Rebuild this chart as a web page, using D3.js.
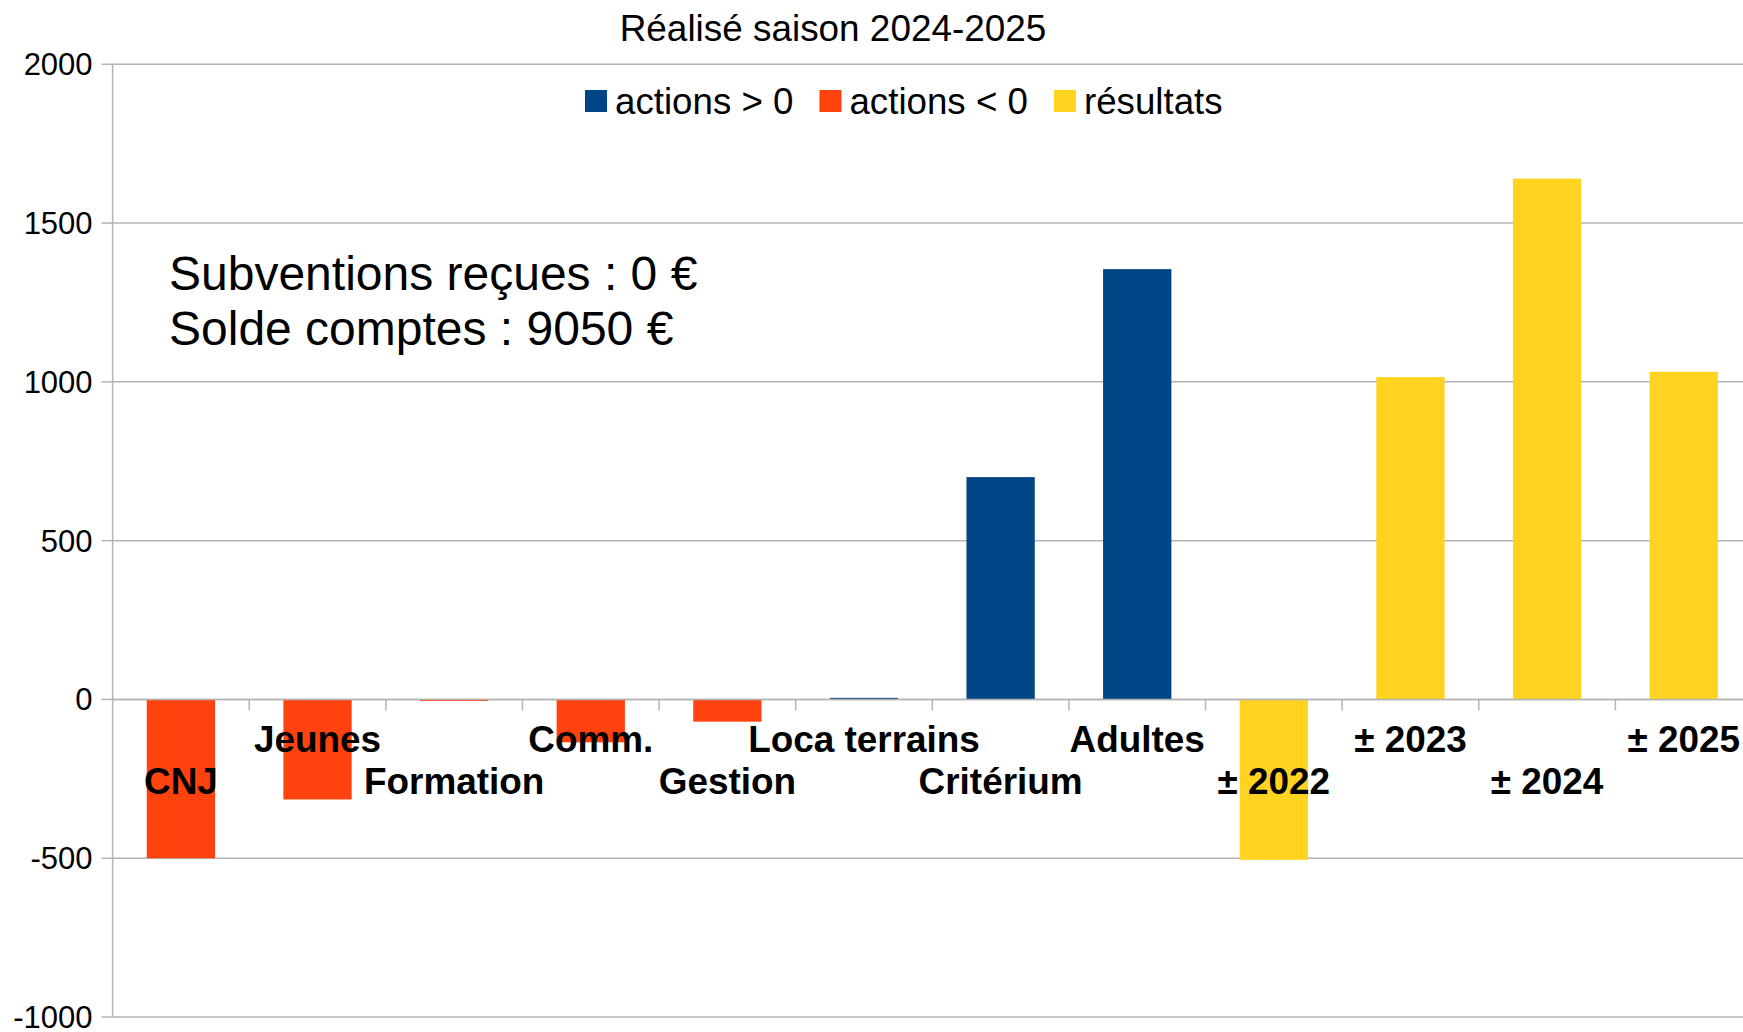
<!DOCTYPE html>
<html lang="fr">
<head>
<meta charset="UTF-8">
<title>Réalisé saison 2024-2025</title>
<script src="https://cdn.jsdelivr.net/npm/d3@7"></script>
<style>
  body { margin: 0; background: #fff; }
  svg { display: block; font-family: 'Liberation Sans', Arial, sans-serif; }
  .grid line { stroke: #b3b3b3; stroke-width: 1.5px; }
  .axis-line { stroke: #b3b3b3; stroke-width: 1.5px; fill: none; }
  .ytick { font-size: 31px; fill: #000; }
  .xlab { font-size: 36.9px; font-weight: bold; fill: #000; }
</style>
</head>
<body>
<div id="chart"></div>
<script>
// données
const categories = ["CNJ", "Jeunes", "Formation", "Comm.", "Gestion", "Loca terrains",
                    "Critérium", "Adultes", "± 2022", "± 2023", "± 2024", "± 2025"];
const actionsPos = [null, null, null, null, null, 5, 700, 1355, null, null, null, null];
const actionsNeg = [-500, -315, -5, -135, -70, null, null, null, null, null, null, null];
const resultats  = [null, null, null, null, null, null, null, null, -505, 1015, 1640, 1032];
const yTicks = [-1000, -500, 0, 500, 1000, 1500, 2000];
const seriesNames = ["actions > 0", "actions < 0", "résultats"];
const seriesColors = ["#004586", "#ff420e", "#ffd320"];

const W = 1743, H = 1032;
// la zone de tracé déborde un peu à droite de l'image
const plotLeft = 112.6, plotRight = 1752, plotTop = 64.3, plotBottom = 1017;

const svg = d3.select("#chart").append("svg")
    .attr("width", W).attr("height", H);

const x = d3.scaleBand()
    .domain(categories)
    .range([plotLeft, plotRight])
    .paddingInner(0.5)
    .paddingOuter(0.25);

const y = d3.scaleLinear()
    .domain([-1000, 2000])
    .range([plotBottom, plotTop]);

// grille horizontale
svg.append("g").attr("class", "grid")
  .selectAll("line")
  .data(yTicks)
  .join("line")
    .attr("x1", plotLeft).attr("x2", W)
    .attr("y1", d => y(d)).attr("y2", d => y(d));

// barres
const allSeries = [actionsPos, actionsNeg, resultats];
allSeries.forEach((vals, s) => {
    const rows = categories.map((c, i) => ({ cat: c, v: vals[i] })).filter(d => d.v != null);
    svg.append("g")
      .selectAll("rect")
      .data(rows)
      .join("rect")
        .attr("x", d => x(d.cat))
        .attr("width", x.bandwidth())
        .attr("y", d => y(Math.max(0, d.v)))
        .attr("height", d => Math.max(1.5, Math.abs(y(d.v) - y(0))))
        .attr("fill", seriesColors[s]);
});

// axe Y
svg.append("line").attr("class", "axis-line")
    .attr("x1", plotLeft).attr("x2", plotLeft).attr("y1", plotTop).attr("y2", plotBottom);
svg.append("g")
  .selectAll("line")
  .data(yTicks)
  .join("line")
    .attr("class", "axis-line")
    .attr("x1", plotLeft - 11).attr("x2", plotLeft)
    .attr("y1", d => y(d)).attr("y2", d => y(d));
svg.append("g")
  .selectAll("text")
  .data(yTicks)
  .join("text")
    .attr("class", "ytick")
    .attr("x", plotLeft - 20)
    .attr("y", d => y(d))
    .attr("dy", "0.35em")
    .attr("text-anchor", "end")
    .text(d => d);

// axe X (à zéro)
svg.append("line").attr("class", "axis-line")
    .attr("x1", plotLeft).attr("x2", W).attr("y1", y(0)).attr("y2", y(0));
const step = x.step();
svg.append("g")
  .selectAll("line")
  .data(d3.range(1, categories.length))
  .join("line")
    .attr("class", "axis-line")
    .attr("x1", d => plotLeft + d * step).attr("x2", d => plotLeft + d * step)
    .attr("y1", y(0)).attr("y2", y(0) + 11);

// étiquettes des catégories (en quinconce)
svg.append("g")
  .selectAll("text")
  .data(categories)
  .join("text")
    .attr("class", "xlab")
    .attr("x", d => x(d) + x.bandwidth() / 2)
    .attr("y", (d, i) => i % 2 ? 739 : 781)
    .attr("dy", "0.35em")
    .attr("text-anchor", "middle")
    .text(d => d);

// titre
svg.append("text")
    .attr("x", 833).attr("y", 28).attr("dy", "0.35em")
    .attr("text-anchor", "middle")
    .style("font-size", "36.9px")
    .text("Réalisé saison 2024-2025");

// légende
let lx = 585;
const legend = svg.append("g");
seriesNames.forEach((name, i) => {
    legend.append("rect")
        .attr("x", lx).attr("y", 90).attr("width", 22).attr("height", 22)
        .attr("fill", seriesColors[i]);
    const t = legend.append("text")
        .attr("x", lx + 30).attr("y", 101).attr("dy", "0.35em")
        .style("font-size", "36.7px")
        .text(name);
    lx += 30 + t.node().getComputedTextLength() + 26;
});

// annotation
const notes = ["Subventions reçues : 0 €", "Solde comptes : 9050 €"];
svg.append("g")
  .selectAll("text")
  .data(notes)
  .join("text")
    .attr("x", 169)
    .attr("y", (d, i) => 273 + i * 55)
    .attr("dy", "0.35em")
    .style("font-size", "48px")
    .text(d => d);
</script>
</body>
</html>
